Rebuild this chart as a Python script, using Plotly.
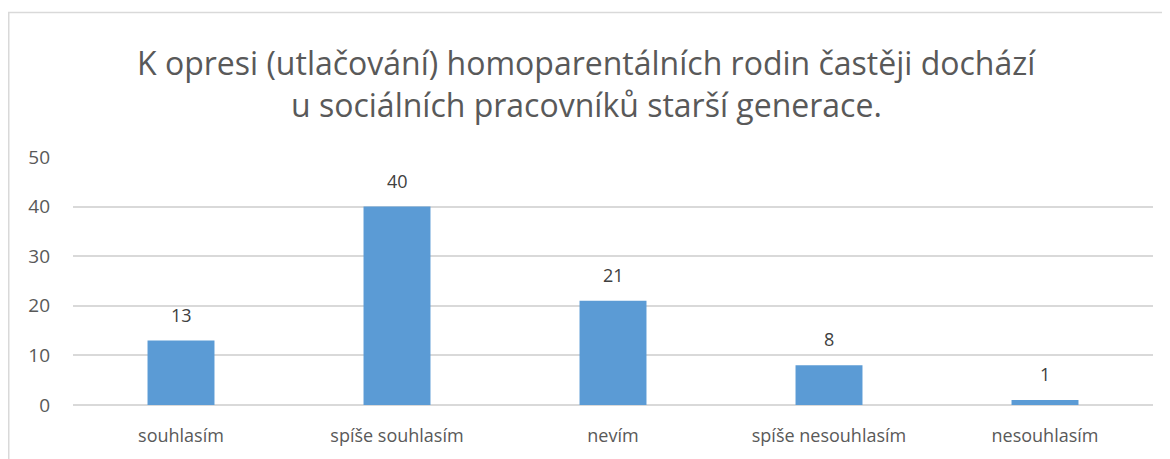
import plotly.graph_objects as go

categories = ["souhlasím", "spíše souhlasím", "nevím", "spíše nesouhlasím", "nesouhlasím"]
values = [13, 40, 21, 8, 1]
y_ticks = [0, 10, 20, 30, 40, 50]
title_lines = ["K opresi (utlačování) homoparentálních rodin častěji dochází",
               "u sociálních pracovníků starší generace."]

FONT = "Open Sans"
fig = go.Figure()
fig.add_trace(go.Bar(x=categories, y=values, marker=dict(color="#5B9BD5", line=dict(width=0)),
                     width=0.31, hoverinfo="skip"))

for c, v in zip(categories, values):
    fig.add_annotation(x=c, y=v, text=str(v), showarrow=False, yanchor="middle", yshift=26,
                       font=dict(family=FONT, size=18, color="#404040"))

fig.add_annotation(xref="paper", yref="paper", x=0.475, y=1.383, text=title_lines[0], showarrow=False,
                   yanchor="middle", font=dict(family=FONT, size=32, color="#595959"))
fig.add_annotation(xref="paper", yref="paper", x=0.475, y=1.21, text=title_lines[1], showarrow=False,
                   yanchor="middle", font=dict(family=FONT, size=32, color="#595959"))

fig.add_shape(type="rect", xref="paper", yref="paper", x0=-0.0595, x1=1.1, y0=-0.3, y1=1.583,
              line=dict(color="#D9D9D9", width=1.5), fillcolor="rgba(0,0,0,0)", layer="below")

fig.update_layout(
    width=1162, height=451,
    margin=dict(l=65, r=17, t=149, b=54),
    paper_bgcolor="white", plot_bgcolor="white",
    showlegend=False,
    xaxis=dict(showgrid=False, showline=False, ticks="", ticklabelstandoff=18,
               tickfont=dict(family=FONT, size=18, color="#595959"), fixedrange=True),
    yaxis=dict(range=[0, 50], tickvals=y_ticks, showgrid=True, gridcolor="#D9D9D9", gridwidth=1.5,
               zeroline=True, zerolinecolor="#D9D9D9", zerolinewidth=1.5, showline=False, ticks="",
               ticklabelstandoff=22, tickfont=dict(family=FONT, size=19, color="#595959")),
)
fig.write_html("out.html")
